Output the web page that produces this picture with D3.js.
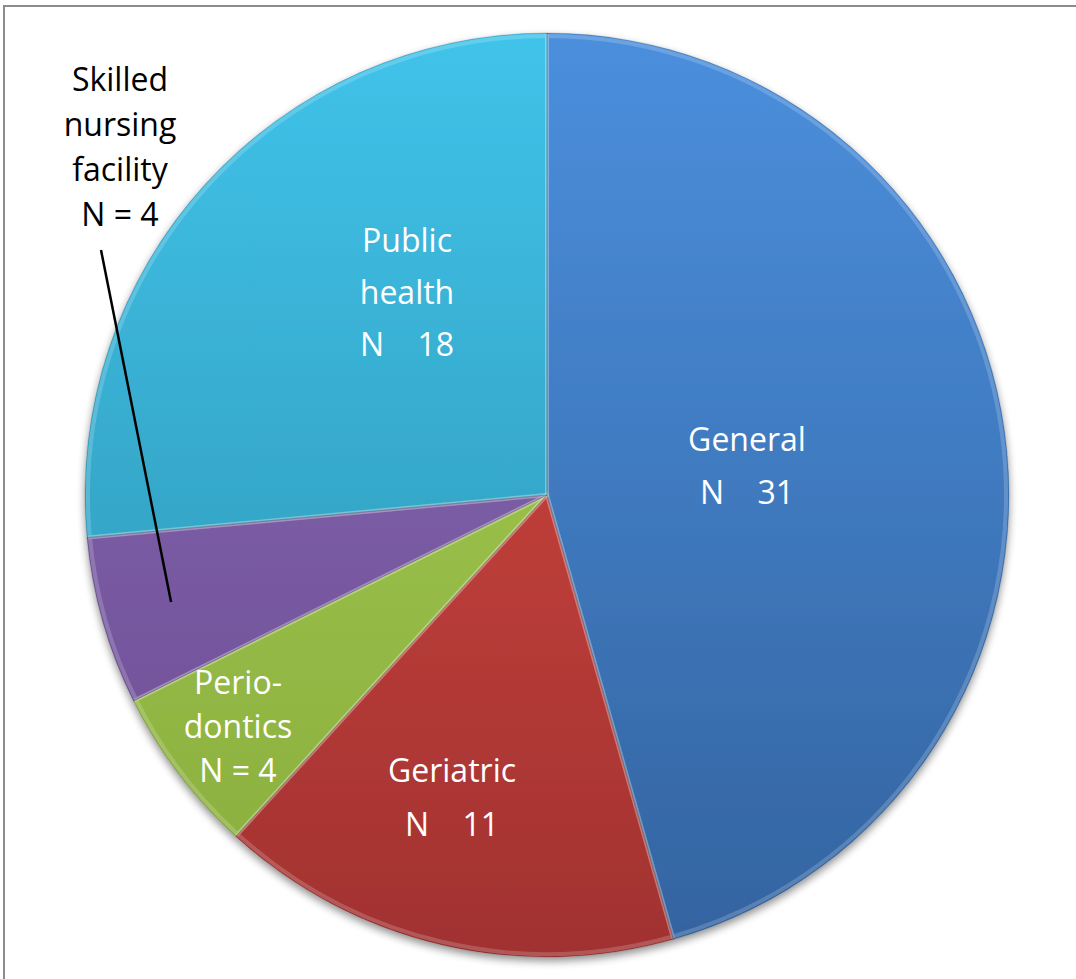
<!DOCTYPE html>
<html>
<head>
<meta charset="utf-8">
<script src="https://cdn.jsdelivr.net/npm/d3@7"></script>
<style>
  body { margin: 0; background: #fff; }
  text { font-family: "Open Sans", "Noto Sans", sans-serif; white-space: pre; }
</style>
</head>
<body>
<div class="chart"></div>
<script>
// data, clockwise from 12 o'clock
var categories = ["General", "Geriatric", "Periodontics", "Skilled nursing facility", "Public health"];
var counts = [31, 11, 4, 4, 18];
var labelLines = [
  ["General", "N    31"],
  ["Geriatric", "N    11"],
  ["Perio-", "dontics", "N = 4"],
  ["Skilled", "nursing", "facility", "N = 4"],
  ["Public", "health", "N    18"]
];
var topColors = ["#4b8fdd", "#dc4a44", "#a8cf52", "#8968b5", "#40c3ea"];
var bottomColors = ["#33639f", "#a13230", "#89ad3e", "#6b4f93", "#2c8eab"];

var svgWidth = 1076;
var svgHeight = 979;
var cx = 547, cy = 495, radius = 462;

var svg = d3.select(".chart").append("svg")
  .attr("width", svgWidth)
  .attr("height", svgHeight);

var defs = svg.append("defs");

// soft shadow under the pie
var shadow = defs.append("filter").attr("id", "shadow")
  .attr("x", "-10%").attr("y", "-10%").attr("width", "120%").attr("height", "120%");
shadow.append("feGaussianBlur").attr("in", "SourceAlpha").attr("stdDeviation", 4);
shadow.append("feOffset").attr("dx", 0).attr("dy", 4).attr("result", "blur");
shadow.append("feComponentTransfer").append("feFuncA").attr("type", "linear").attr("slope", 0.45);
var merge = shadow.append("feMerge");
merge.append("feMergeNode");
merge.append("feMergeNode").attr("in", "SourceGraphic");

// vertical shading, in the pie group's own coords
categories.forEach(function(c, i) {
  var g = defs.append("linearGradient").attr("id", "grad" + i)
    .attr("gradientUnits", "userSpaceOnUse")
    .attr("x1", 0).attr("y1", -radius).attr("x2", 0).attr("y2", radius);
  g.append("stop").attr("offset", "0%").attr("stop-color", topColors[i]);
  g.append("stop").attr("offset", "100%").attr("stop-color", bottomColors[i]);
});

// outer frame
svg.append("rect")
  .attr("x", 4).attr("y", 6)
  .attr("width", svgWidth + 10).attr("height", svgHeight + 10)
  .attr("fill", "none").attr("stroke", "#8c8c8c").attr("stroke-width", 2);

var pie = d3.pie().sort(null).value(function(d) { return d; });
var arcs = pie(counts);
var arc = d3.arc().innerRadius(0).outerRadius(radius);
var bevel = d3.arc().innerRadius(0).outerRadius(radius - 3);

var chart = svg.append("g").attr("transform", "translate(" + cx + "," + cy + ")");

var slices = chart.append("g").attr("filter", "url(#shadow)");
slices.selectAll("path.slice")
  .data(arcs)
  .enter()
  .append("path")
  .attr("class", "slice")
  .attr("d", arc)
  .attr("fill", function(d, i) { return "url(#grad" + i + ")"; });

// lighter bevel edge
chart.selectAll("path.edge")
  .data(arcs)
  .enter()
  .append("path")
  .attr("class", "edge")
  .attr("d", bevel)
  .attr("fill", "none")
  .attr("stroke", "#fff")
  .attr("stroke-opacity", 0.18)
  .attr("stroke-width", 4);

chart.selectAll("path.sep")
  .data(arcs)
  .enter()
  .append("path")
  .attr("d", arc)
  .attr("fill", "none")
  .attr("stroke", "#000")
  .attr("stroke-opacity", 0.15)
  .attr("stroke-width", 1);

// label positions (absolute page coords) and line spacing
var labelPos = [[747, 442, 53], [452, 773, 54], [238, 685, 44], [120, 82, 45], [407, 243, 52]];
var labelColor = ["#fff", "#fff", "#fff", "#000", "#fff"];

labelLines.forEach(function(lines, i) {
  var t = svg.append("text")
    .attr("x", labelPos[i][0])
    .attr("y", labelPos[i][1])
    .attr("text-anchor", "middle")
    .attr("dominant-baseline", "middle")
    .attr("font-size", 32)
    .attr("fill", labelColor[i]);
  lines.forEach(function(l, j) {
    t.append("tspan")
      .attr("x", labelPos[i][0])
      .attr("y", labelPos[i][1] + j * labelPos[i][2])
      .text(l);
  });
});

// leader line for the skilled nursing facility slice
var snf = arcs[3];
var mid = (snf.startAngle + snf.endAngle) / 2;
var tip = [cx + Math.sin(mid) * radius * 0.846, cy - Math.cos(mid) * radius * 0.846];
svg.append("line")
  .attr("x1", 101).attr("y1", 250)
  .attr("x2", tip[0]).attr("y2", tip[1])
  .attr("stroke", "#000").attr("stroke-width", 2.5);
</script>
</body>
</html>
